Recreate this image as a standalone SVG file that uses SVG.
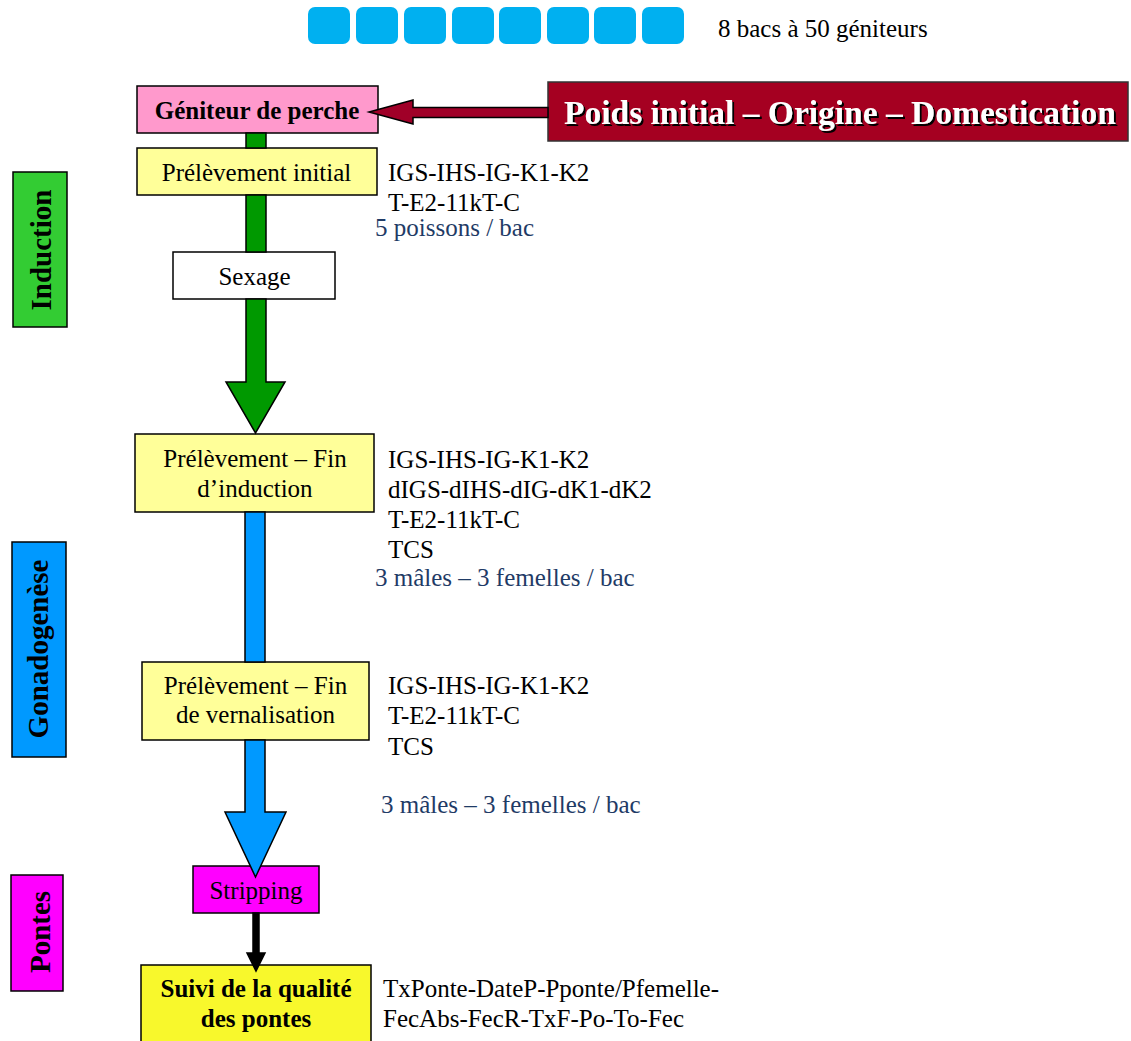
<svg xmlns="http://www.w3.org/2000/svg" width="1131" height="1041" viewBox="0 0 1131 1041">
<style>
text{font-family:"Liberation Serif","Times New Roman",serif;font-size:25px;fill:#000}
.c{text-anchor:middle}
.b{font-weight:bold}
.blue{fill:#1f3b66}
.box{stroke:#000;stroke-width:1.5}
.tank{fill:#00b0f0}
.lab{font-weight:bold;font-size:29px;text-anchor:middle}
</style>
<defs>
<filter id="sh" x="-5%" y="-20%" width="110%" height="140%">
<feDropShadow dx="2" dy="2" stdDeviation="0" flood-color="#000" flood-opacity="1"/>
</filter>
</defs>
<rect width="1131" height="1041" fill="#fff"/>

<g id="tanks">
<rect class="tank" x="308" y="7" width="42" height="37" rx="7"/>
<rect class="tank" x="356" y="7" width="42" height="37" rx="7"/>
<rect class="tank" x="404" y="7" width="42" height="37" rx="7"/>
<rect class="tank" x="452" y="7" width="42" height="37" rx="7"/>
<rect class="tank" x="499" y="7" width="42" height="37" rx="7"/>
<rect class="tank" x="547" y="7" width="42" height="37" rx="7"/>
<rect class="tank" x="594" y="7" width="42" height="37" rx="7"/>
<rect class="tank" x="642" y="7" width="42" height="37" rx="7"/>
<text x="718" y="37">8 bacs à 50 géniteurs</text>
</g>

<g id="induction-label">
<rect class="box" x="13" y="172" width="54" height="155" fill="#33cc33"/>
<text class="lab" transform="translate(51,250) rotate(-90)">Induction</text>
</g>
<g id="gonadogenese-label">
<rect class="box" x="12" y="542" width="54" height="215" fill="#0099ff"/>
<text class="lab" transform="translate(48,649) rotate(-90)">Gonadogenèse</text>
</g>
<g id="pontes-label">
<rect class="box" x="11" y="875" width="52" height="116" fill="#ff00ff"/>
<text class="lab" transform="translate(50,932) rotate(-90)">Pontes</text>
</g>

<g id="geniteur">
<rect class="box" x="137" y="86" width="241" height="47" fill="#ff99cc"/>
<text class="c b" x="257" y="119">Géniteur de perche</text>
</g>

<g id="poids">
<rect x="548" y="82" width="580" height="59" fill="#a50021" stroke="#333" stroke-width="1.5"/>
<text class="b" x="564" y="124" style="font-size:33.5px;fill:#fff" filter="url(#sh)">Poids initial – Origine – Domestication</text>
</g>

<g id="prelevement-initial">
<rect class="box" x="137" y="148" width="240" height="47" fill="#ffff99"/>
<text class="c" x="256.5" y="181">Prélèvement initial</text>
<text x="388" y="181">IGS-IHS-IG-K1-K2</text>
<text x="388" y="211">T-E2-11kT-C</text>
<text class="blue" x="375" y="236">5 poissons / bac</text>
</g>

<g id="sexage">
<rect class="box" x="173" y="252" width="162" height="47" fill="#fff"/>
<text class="c" x="254.5" y="285">Sexage</text>
</g>

<g id="fin-induction">
<rect class="box" x="135" y="434" width="239" height="78" fill="#ffff99"/>
<text class="c" x="255" y="467">Prélèvement – Fin</text>
<text class="c" x="255" y="497">d’induction</text>
<text x="388" y="468">IGS-IHS-IG-K1-K2</text>
<text x="388" y="498">dIGS-dIHS-dIG-dK1-dK2</text>
<text x="388" y="528">T-E2-11kT-C</text>
<text x="388" y="558">TCS</text>
<text class="blue" x="375" y="586">3 mâles – 3 femelles / bac</text>
</g>

<g id="fin-vernalisation">
<rect class="box" x="142" y="662" width="227" height="78" fill="#ffff99"/>
<text class="c" x="255.5" y="694">Prélèvement – Fin</text>
<text class="c" x="255.5" y="723">de vernalisation</text>
<text x="388" y="694">IGS-IHS-IG-K1-K2</text>
<text x="388" y="724">T-E2-11kT-C</text>
<text x="388" y="755">TCS</text>
<text class="blue" x="381" y="813">3 mâles – 3 femelles / bac</text>
</g>

<g id="stripping">
<rect class="box" x="193" y="866" width="126" height="47" fill="#ff00ff"/>
<text class="c" x="256" y="899">Stripping</text>
</g>

<g id="suivi">
<rect class="box" x="141" y="965" width="230" height="90" fill="#f8f82c"/>
<text class="c b" x="256" y="997">Suivi de la qualité</text>
<text class="c b" x="256" y="1027">des pontes</text>
<text x="383" y="997">TxPonte-DateP-Pponte/Pfemelle-</text>
<text x="383" y="1027">FecAbs-FecR-TxF-Po-To-Fec</text>
</g>

<g id="connectors" stroke="#000" stroke-width="1.5" stroke-linejoin="miter">
<polygon points="548,107.5 413,107.5 413,100 369,112 413,124 413,117.5 548,117.5" fill="#a00028"/>
<rect x="246" y="133" width="20" height="15" fill="#009900"/>
<rect x="246" y="195" width="20" height="57" fill="#009900"/>
<polygon points="246,299 266,299 266,382 285,382 255.5,433 226,382 246,382" fill="#009900"/>
<rect x="245" y="512" width="20" height="150" fill="#0099ff"/>
<polygon points="245,740 265,740 265,812 286,812 255.5,877 225,812 245,812" fill="#0099ff"/>
<rect x="253" y="913" width="6" height="40" fill="#000"/>
<polygon points="247,953 265,953 256,971" fill="#000"/>
</g>
</svg>
